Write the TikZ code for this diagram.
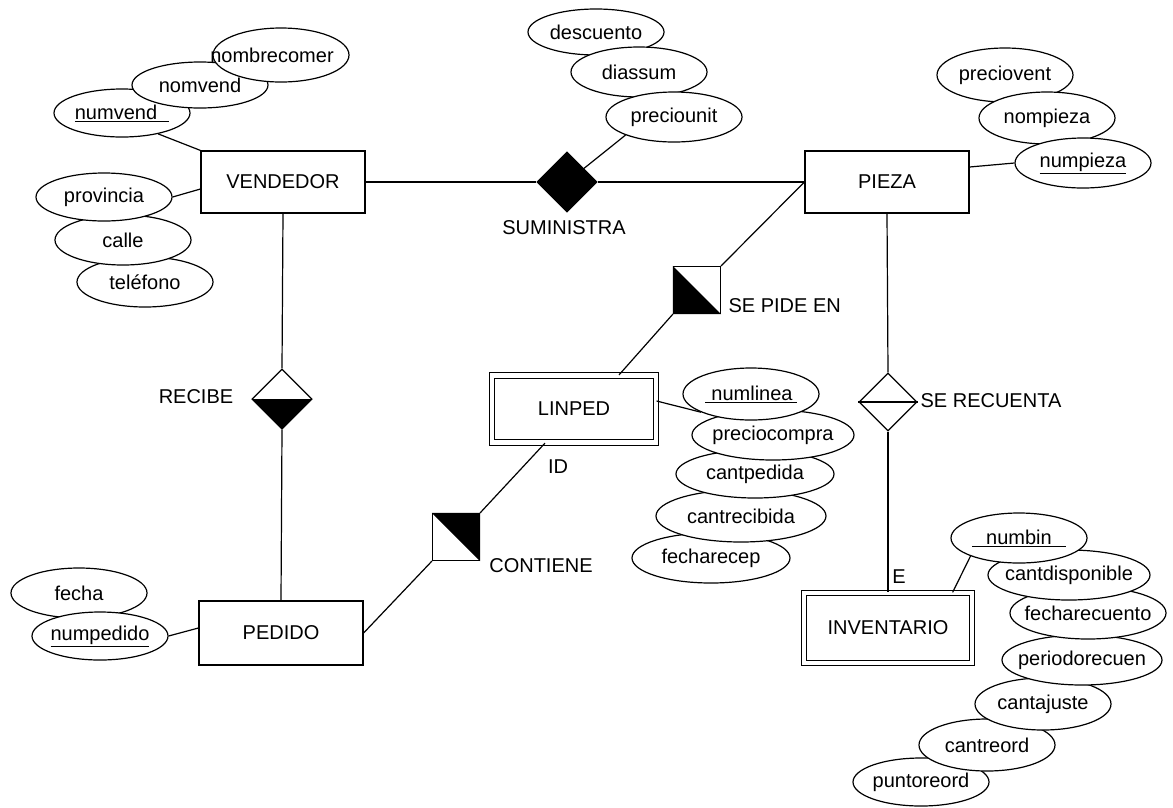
\documentclass[tikz,border=0pt]{standalone}
\usepackage{fontspec}
\setmainfont{Liberation Sans}
\usetikzlibrary{shapes.geometric}

\newcommand{\clave}[1]{\underline{#1}}

\begin{document}
\begin{tikzpicture}[
      x=1pt, y=-1pt,
      line width=1.2pt,
      every node/.style={font=\fontsize{20}{22}\selectfont},
      ent/.style={draw, minimum width=164pt, minimum height=62pt, inner sep=0pt},
      debil/.style={draw, double, double distance=4.5pt, minimum width=164pt, minimum height=67pt, inner sep=0pt},
      rel/.style={draw, diamond, aspect=1, minimum width=60pt, minimum height=60pt, inner sep=0pt},
      relid/.style={draw, rectangle, minimum size=47pt, inner sep=0pt},
      atr/.style={draw, ellipse, fill=white, minimum width=136pt, minimum height=49pt, inner xsep=-30pt, inner ysep=0pt}
    ]
      \useasboundingbox (0,0) rectangle (1173,807);

      % entidades
      \node[ent] (vend) at (283,182) {VENDEDOR};
      \node[ent] (pz) at (887,182) {PIEZA};
      \node[ent, minimum height=64pt] (ped) at (281,633) {PEDIDO};
      \node[debil] (lin) at (574,409) {LINPED};
      \node[debil, minimum width=168pt, minimum height=70pt] (inv) at (888,628) {INVENTARIO};

      % relaciones
      \node[rel, fill=black] (sum) at (567,182) {};
      \node[rel] (rec) at (282,399) {};
      \fill (rec.west) -- (rec.south) -- (rec.east) -- cycle;
      \node[rel, minimum width=58pt, minimum height=58pt] (src) at (888,402) {};
      \draw (src.west) -- (src.east);
      \node[relid] (spe) at (697,290) {};
      \fill (spe.north west) -- (spe.south west) -- (spe.south east) -- cycle;
      \node[relid] (con) at (456,537) {};
      \fill (con.north west) -- (con.north east) -- (con.south east) -- cycle;

      \node at (564,228) {SUMINISTRA};
      \node[anchor=west, inner sep=0pt] at (728,306) {SE PIDE EN};
      \node at (196,397) {RECIBE};
      \node at (541,566) {CONTIENE};
      \node[anchor=west, inner sep=0pt] at (920,401) {SE RECUENTA};
      \node at (558,467) {ID};
      \node at (899,577) {E};

      % atributos
      \node[atr, minimum height=48pt] (nv) at (122,113) {\clave{numvend\kern12pt}};
      \node[atr, minimum height=46pt] (nom) at (200,85) {nomvend};
      \node[atr, minimum height=54pt] (nc) at (281,55) {\kern-18pt nombrecomer};
      \node[atr, minimum height=50pt] (tel) at (145,282) {teléfono};
      \node[atr, minimum height=50pt] (cal) at (123,240) {calle};
      \node[atr, minimum height=48pt] (pv) at (104,197) {provincia};

      \node[atr, minimum height=46pt] (dto) at (596,32) {descuento};
      \node[atr, minimum height=50pt] (dia) at (639,72) {diassum};
      \node[atr, minimum height=50pt] (pu) at (674,117) {preciounit};

      \node[atr, minimum height=54pt] (pvt) at (1005,75) {preciovent};
      \node[atr, minimum height=52pt] (npz) at (1047,118) {nompieza};
      \node[atr, minimum height=50pt] (np) at (1083,163) {\clave{numpieza}};

      \node[atr, minimum width=158pt, minimum height=50pt] (fr) at (711,558) {fecharecep};
      \node[atr, minimum width=170pt, minimum height=52pt] (cr) at (741,516) {cantrecibida};
      \node[atr, minimum width=158pt, minimum height=48pt] (cp) at (755,474) {cantpedida};
      \node[atr, minimum width=162pt, minimum height=50pt] (pc) at (773,435) {preciocompra};
      \node[atr, minimum height=52pt] (nl) at (751,394) {\clave{\kern6pt numlinea\kern4pt}};

      \node[atr, minimum height=48pt] (pto) at (921,782) {puntoreord};
      \node[atr, minimum height=52pt] (cro) at (987,745) {cantreord};
      \node[atr, minimum height=52pt] (caj) at (1043,704) {cantajuste};
      \node[atr, minimum width=160pt, minimum height=50pt] (per) at (1082,660) {periodorecuen};
      \node[atr, minimum width=156pt, minimum height=52pt] (frc) at (1088,613) {fecharecuento};
      \node[atr, minimum width=162pt, minimum height=50pt] (cdp) at (1069,575) {cantdisponible};
      \node[atr, minimum height=50pt] (nb) at (1019,538) {\clave{\kern14pt numbin\kern14pt}};

      \node[atr, minimum height=50pt] (fe) at (79,593) {fecha};
      \node[atr, minimum height=48pt] (npd) at (100,636) {\clave{numpedido}};

      % conexiones
      \draw (vend) -- (sum);
      \draw (sum) -- (pz);
      \draw (sum) -- (pu.south west);
      \draw (vend.south) -- (rec.north);
      \draw (rec.south) -- (ped.north);
      \draw (pz.west) -- (spe.north east);
      \draw (spe.south west) -- ([xshift=45pt]lin.north);
      \draw ([xshift=-29pt]lin.south) -- (con.north east);
      \draw (con.south west) -- (ped.east);
      \draw (pz.south) -- (src.north);
      \draw (src.south) -- (inv.north);
      \draw ([xshift=-20pt]inv.north east) -- (nb.south west);
      \draw ([yshift=8pt]lin.east) -- (nl.200);
      \draw (nv.-30) -- (vend.north west);
      \draw (pv.east) -- ([yshift=-7pt]vend.west);
      \draw ([yshift=15pt]pz.east) -- (np.west);
      \draw (npd.east) -- ([yshift=5pt]ped.west);
    \end{tikzpicture}
\end{document}
